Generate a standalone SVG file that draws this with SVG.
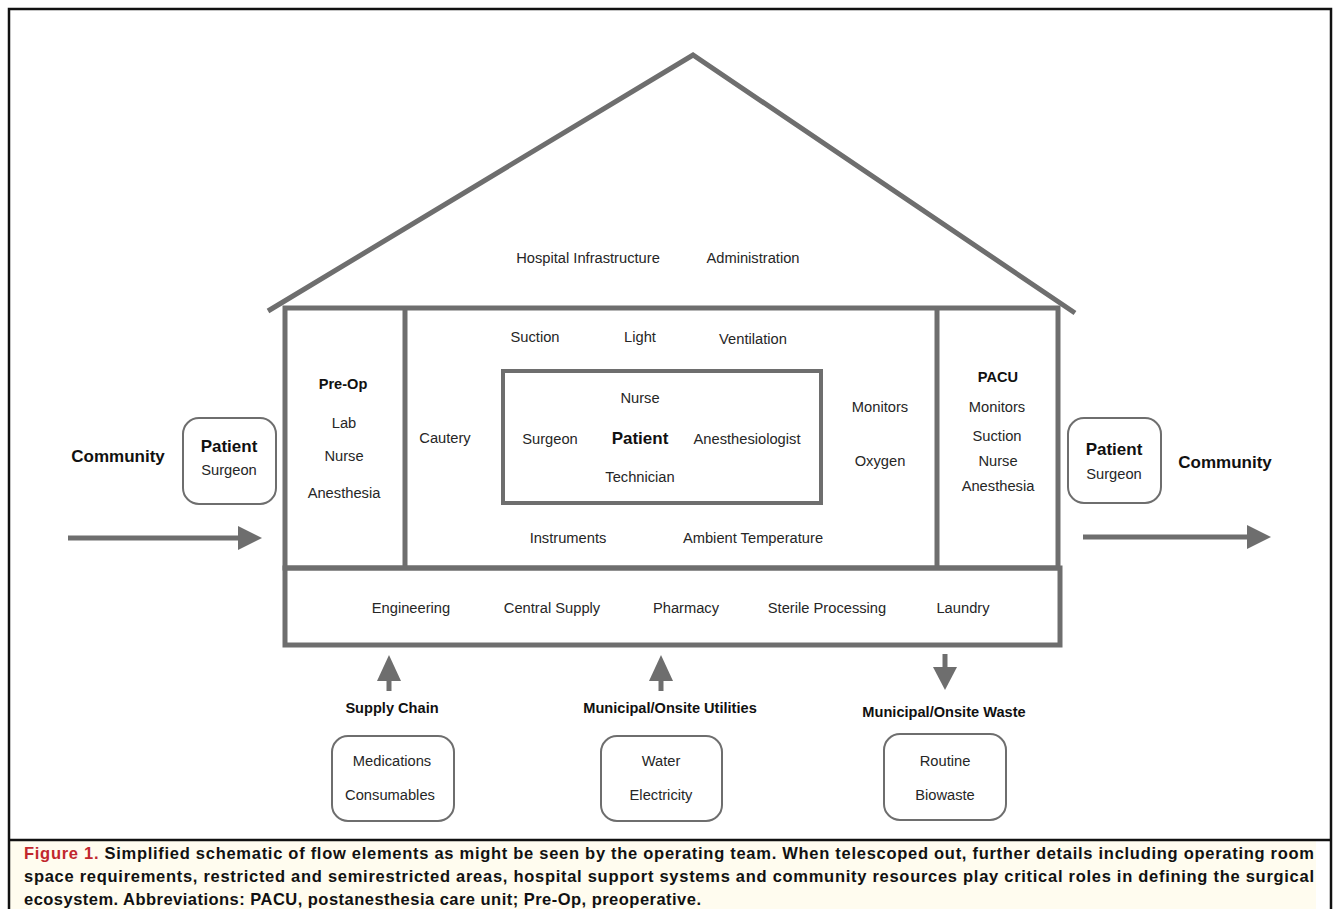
<svg xmlns="http://www.w3.org/2000/svg" width="1334" height="909" viewBox="0 0 1334 909">
<style>
.t{font-family:"Liberation Sans",Arial,sans-serif;font-size:14.7px;fill:#262626;text-anchor:middle}
.b{font-family:"Liberation Sans",Arial,sans-serif;font-size:14.6px;font-weight:bold;fill:#111;text-anchor:middle}
.bl{font-family:"Liberation Sans",Arial,sans-serif;font-size:17px;font-weight:bold;fill:#111;text-anchor:middle}
.wall{fill:none;stroke:#6e6e6e;stroke-width:5}
.box{fill:#fff;stroke:#6e6e6e;stroke-width:2}
.stem{stroke:#6e6e6e;stroke-width:5;fill:none}
.head{fill:#6e6e6e}
.cap{font-family:"Liberation Sans",Arial,sans-serif;font-size:16.5px;font-weight:bold;fill:#111}
</style>
<rect x="0" y="0" width="1334" height="909" fill="#fff"/>
<rect x="9" y="841" width="1307" height="68" fill="#fffcef"/>
<rect x="9" y="9" width="1322" height="910" fill="none" stroke="#111" stroke-width="2.5"/>
<line x1="9" y1="840" x2="1331" y2="840" stroke="#111" stroke-width="2.5"/>

<g id="house">
<polyline class="wall" points="268,311 693,55 1075,313"/>
<rect class="wall" x="285" y="308" width="773" height="260"/>
<rect class="wall" x="285" y="568" width="775" height="77"/>
<line class="wall" x1="405" y1="308" x2="405" y2="568"/>
<line class="wall" x1="937" y1="308" x2="937" y2="568"/>
<text class="t" x="588" y="263">Hospital Infrastructure</text>
<text class="t" x="753" y="263">Administration</text>
</g>

<g id="preop">
<text class="b" x="343" y="389">Pre-Op</text>
<text class="t" x="344" y="428">Lab</text>
<text class="t" x="344" y="461">Nurse</text>
<text class="t" x="344" y="498">Anesthesia</text>
</g>

<g id="or">
<text class="t" x="535" y="342">Suction</text>
<text class="t" x="640" y="342">Light</text>
<text class="t" x="753" y="344">Ventilation</text>
<text class="t" x="445" y="443">Cautery</text>
<text class="t" x="880" y="412">Monitors</text>
<text class="t" x="880" y="466">Oxygen</text>
<text class="t" x="568" y="543">Instruments</text>
<text class="t" x="753" y="543">Ambient Temperature</text>
</g>

<g id="team">
<rect x="503" y="371" width="318" height="132" fill="none" stroke="#6e6e6e" stroke-width="4"/>
<text class="t" x="640" y="403">Nurse</text>
<text class="t" x="550" y="444">Surgeon</text>
<text class="bl" x="640" y="444">Patient</text>
<text class="t" x="747" y="444">Anesthesiologist</text>
<text class="t" x="640" y="482">Technician</text>
</g>

<g id="pacu">
<text class="b" x="998" y="382">PACU</text>
<text class="t" x="997" y="412">Monitors</text>
<text class="t" x="997" y="441">Suction</text>
<text class="t" x="998" y="466">Nurse</text>
<text class="t" x="998" y="491">Anesthesia</text>
</g>

<g id="support">
<text class="t" x="411" y="613">Engineering</text>
<text class="t" x="552" y="613">Central Supply</text>
<text class="t" x="686" y="613">Pharmacy</text>
<text class="t" x="827" y="613">Sterile Processing</text>
<text class="t" x="963" y="613">Laundry</text>
</g>

<g id="community-in">
<text class="bl" x="118" y="462">Community</text>
</g>
<g id="patient-in">
<rect class="box" x="183" y="418" width="93" height="86" rx="16"/>
<text class="bl" x="229" y="452">Patient</text>
<text class="t" x="229" y="475">Surgeon</text>
</g>
<g id="patient-out">
<rect class="box" x="1068" y="418" width="93" height="85" rx="16"/>
<text class="bl" x="1114" y="455">Patient</text>
<text class="t" x="1114" y="479">Surgeon</text>
</g>
<g id="community-out">
<text class="bl" x="1225" y="468">Community</text>
</g>

<g id="supply-chain">
<text class="b" x="392" y="713">Supply Chain</text>
<rect class="box" x="332" y="736" width="122" height="85" rx="16"/>
<text class="t" x="392" y="766">Medications</text>
<text class="t" x="390" y="800">Consumables</text>
</g>
<g id="utilities">
<text class="b" x="670" y="713">Municipal/Onsite Utilities</text>
<rect class="box" x="601" y="736" width="121" height="85" rx="16"/>
<text class="t" x="661" y="766">Water</text>
<text class="t" x="661" y="800">Electricity</text>
</g>
<g id="waste">
<text class="b" x="944" y="717">Municipal/Onsite Waste</text>
<rect class="box" x="884" y="734" width="122" height="86" rx="16"/>
<text class="t" x="945" y="766">Routine</text>
<text class="t" x="945" y="800">Biowaste</text>
</g>

<g id="connectors">
<line class="stem" x1="68" y1="538" x2="240" y2="538"/>
<polygon class="head" points="238,526 262,538 238,550"/>
<line class="stem" x1="1083" y1="537" x2="1249" y2="537"/>
<polygon class="head" points="1247,525 1271,537 1247,549"/>
<line class="stem" x1="389" y1="691" x2="389" y2="678"/>
<polygon class="head" points="377,681 389,655 401,681"/>
<line class="stem" x1="661" y1="691" x2="661" y2="678"/>
<polygon class="head" points="649,681 661,655 673,681"/>
<line class="stem" x1="945" y1="654" x2="945" y2="669"/>
<polygon class="head" points="933,667 945,690 957,667"/>
</g>

<g id="caption">
<text class="cap" x="24" y="859" textLength="1290" lengthAdjust="spacing"><tspan fill="#c1272d">Figure 1.</tspan> Simplified schematic of flow elements as might be seen by the operating team. When telescoped out, further details including operating room</text>
<text class="cap" x="24" y="882" textLength="1290" lengthAdjust="spacing">space requirements, restricted and semirestricted areas, hospital support systems and community resources play critical roles in defining the surgical</text>
<text class="cap" x="24" y="905" textLength="677" lengthAdjust="spacing">ecosystem. Abbreviations: PACU, postanesthesia care unit; Pre-Op, preoperative.</text>
</g>
</svg>
